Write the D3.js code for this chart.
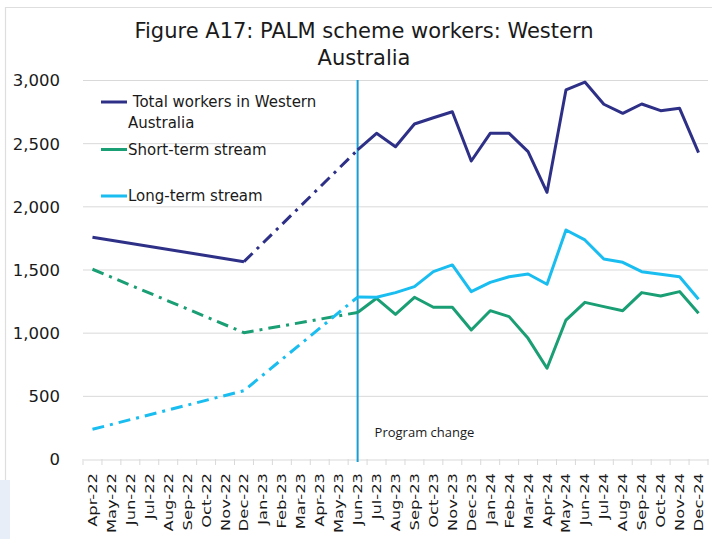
<!DOCTYPE html>
<html>
<head>
<meta charset="utf-8">
<script src="https://cdn.jsdelivr.net/npm/d3@7"></script>
<style>
  html, body { margin: 0; padding: 0; background: #ffffff; }
  svg { display: block; }
</style>
</head>
<body>
<svg id="chart" width="712" height="539"></svg>
<script>
// ---------------- DATA ----------------
const categories = [
  "Apr-22","May-22","Jun-22","Jul-22","Aug-22","Sep-22","Oct-22","Nov-22","Dec-22",
  "Jan-23","Feb-23","Mar-23","Apr-23","May-23","Jun-23","Jul-23","Aug-23","Sep-23",
  "Oct-23","Nov-23","Dec-23","Jan-24","Feb-24","Mar-24","Apr-24","May-24","Jun-24",
  "Jul-24","Aug-24","Sep-24","Oct-24","Nov-24","Dec-24"
];
const totalWorkers = [
  1755, null, null, null, null, null, null, null, 1562,
  null, null, null, null, null, 2446, 2578, 2472, 2652,
  2701, 2749, 2359, 2578, 2578, 2433, 2111, 2921, 2984,
  2808, 2736, 2810, 2757, 2776, 2425
];
const shortTerm = [
  1502, null, null, null, null, null, null, null, 1000,
  null, null, null, null, null, 1160, 1272, 1145, 1280,
  1201, 1201, 1021, 1174, 1127, 955, 718, 1100, 1240,
  1206, 1174, 1317, 1290, 1325, 1153
];
const longTerm = [
  235, null, null, null, null, null, null, null, 541,
  null, null, null, null, null, 1282, 1280, 1317, 1364,
  1483, 1536, 1325, 1398, 1443, 1464, 1383, 1813, 1734,
  1583, 1557, 1483, 1462, 1443, 1264
];
const yTicks = [0, 500, 1000, 1500, 2000, 2500, 3000];
const seriesNames = ["Total workers in Western Australia", "Short-term stream", "Long-term stream"];
const titleLines = ["Figure A17: PALM scheme workers: Western", "Australia"];
const markerLabel = "Program change";
const markerCategory = "Jun-23";

// ---------------- STYLE / LAYOUT ----------------
const colors = { total: "#2e3087", short: "#1a9e74", long: "#19bdf0", marker: "#1a9dd2", grid: "#d9d9d9" };
const dashPattern = "12,6,3,6";
const series = [
  { key: "total", values: totalWorkers, color: colors.total, dashed: [[8, 14]] },
  { key: "short", values: shortTerm,   color: colors.short, dashed: [[0, 14]] },
  { key: "long",  values: longTerm,    color: colors.long,  dashed: [[0, 14]] }
];

const svg = d3.select("#chart");
const W = 712, H = 539;
const plot = { left: 83, right: 708, top: 80, bottom: 459 };

const x = d3.scaleBand().domain(categories).range([plot.left, plot.right]).padding(0);
const y = d3.scaleLinear().domain([0, 3000]).range([plot.bottom, plot.top]);
const cx = c => x(c) + x.bandwidth() / 2;

// background + border
svg.append("rect").attr("width", W).attr("height", H).attr("fill", "#ffffff");
svg.append("line").attr("x1", 5).attr("x2", W).attr("y1", 7.5).attr("y2", 7.5)
  .attr("stroke", "#dedede").attr("stroke-width", 1.2);
svg.append("line").attr("x1", 5.5).attr("x2", 5.5).attr("y1", 7).attr("y2", 480)
  .attr("stroke", "#dedede").attr("stroke-width", 1.2);
svg.append("rect").attr("x", 0).attr("y", 480).attr("width", 10).attr("height", H - 480)
  .attr("fill", "#e8eef8");

// gridlines
svg.append("g").selectAll("line").data(yTicks.filter(d => d > 0)).join("line")
  .attr("x1", plot.left).attr("x2", plot.right)
  .attr("y1", d => y(d) + 0.5).attr("y2", d => y(d) + 0.5)
  .attr("stroke", colors.grid).attr("stroke-width", 1);

// y axis labels
const yAxis = d3.axisLeft(y).tickValues(yTicks).tickFormat(d3.format(",")).tickSize(0).tickPadding(0);
const gy = svg.append("g").attr("transform", `translate(60,0)`).call(yAxis);
gy.select(".domain").remove();
gy.selectAll("text").attr("font-family", "DejaVu Sans").attr("font-size", 16.5)
  .attr("fill", "#1a1a1a").attr("dy", "0.36em");

// x axis
const xAxis = d3.axisBottom(x).tickSize(0).tickFormat("");
const gx = svg.append("g").attr("transform", `translate(0,${plot.bottom + 0.5})`).call(xAxis);
gx.select(".domain").attr("stroke", colors.grid).attr("stroke-width", 1.2);
gx.selectAll(".tick").remove();
const bounds = categories.map(c => x(c)).concat([plot.right]);
svg.append("g").selectAll("line").data(bounds).join("line")
  .attr("x1", d => d).attr("x2", d => d)
  .attr("y1", plot.bottom).attr("y2", plot.bottom + 6)
  .attr("stroke", colors.grid).attr("stroke-width", 1);
svg.append("g").selectAll("text").data(categories).join("text")
  .attr("transform", d => `translate(${cx(d) + 4.5},${plot.bottom + 14}) rotate(-90) scale(1.36,1)`)
  .attr("text-anchor", "end")
  .attr("font-family", "DejaVu Sans").attr("font-size", 12).attr("fill", "#1a1a1a")
  .text(d => d);

// program change marker
svg.append("line")
  .attr("x1", cx(markerCategory)).attr("x2", cx(markerCategory))
  .attr("y1", plot.top).attr("y2", plot.bottom + 3)
  .attr("stroke", colors.marker).attr("stroke-width", 2);
svg.append("text").attr("x", cx(markerCategory) + 17).attr("y", 437)
  .attr("font-family", "Open Sans").attr("font-size", 13).attr("fill", "#1a1a1a")
  .text(markerLabel);

// series lines
const line = d3.line().x(d => cx(d.c)).y(d => y(d.v));
series.forEach(s => {
  const pts = s.values.map((v, i) => ({ i, c: categories[i], v })).filter(d => d.v != null);
  const isDashed = (a, b) => s.dashed.some(([lo, hi]) => a >= lo && b <= hi);
  // group consecutive segments by style
  let runs = [];
  for (let k = 0; k < pts.length - 1; k++) {
    const d = isDashed(pts[k].i, pts[k + 1].i);
    const last = runs[runs.length - 1];
    if (last && last.dashed === d) last.pts.push(pts[k + 1]);
    else runs.push({ dashed: d, pts: [pts[k], pts[k + 1]] });
  }
  runs.forEach(r => {
    svg.append("path").datum(r.pts)
      .attr("d", line)
      .attr("fill", "none")
      .attr("stroke", s.color)
      .attr("stroke-width", 3)
      .attr("stroke-linejoin", "round")
      .attr("stroke-dasharray", r.dashed ? dashPattern : null);
  });
});

// legend
const legend = svg.append("g").attr("font-family", "DejaVu Sans").attr("font-size", 15).attr("fill", "#1a1a1a");
const legendRows = [
  { color: colors.total, y: 102, lines: [" Total workers in Western", "Australia"] },
  { color: colors.short, y: 149.5, lines: ["Short-term stream"] },
  { color: colors.long,  y: 196, lines: ["Long-term stream"] }
];
legendRows.forEach((r, i) => {
  legend.append("line").attr("x1", 101).attr("x2", 127).attr("y1", r.y).attr("y2", r.y)
    .attr("stroke", r.color).attr("stroke-width", 3);
  r.lines.forEach((t, j) => {
    legend.append("text").attr("x", 128).attr("y", r.y + j * 20.5).attr("dy", "0.36em")
      .attr("xml:space", "preserve").style("white-space", "pre")
      .text(t);
  });
});

// title
const title = svg.append("g").attr("font-family", "DejaVu Sans").attr("font-size", 21)
  .attr("fill", "#1a1a1a").attr("text-anchor", "middle");
titleLines.forEach((t, i) => {
  title.append("text").attr("x", 364).attr("y", 38 + i * 27).text(t);
});
</script>
</body>
</html>
